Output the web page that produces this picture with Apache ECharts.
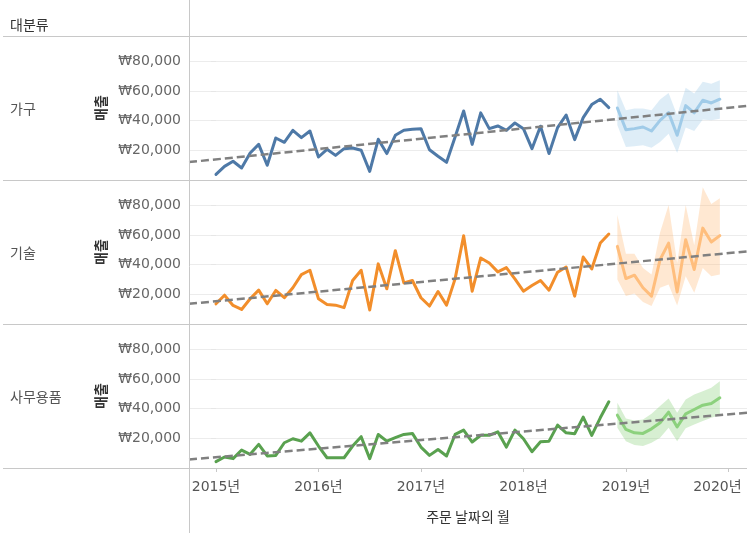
<!DOCTYPE html>
<html><head><meta charset="utf-8">
<script src="https://cdn.jsdelivr.net/npm/echarts@6/dist/echarts.min.js"></script>
<style>html,body{margin:0;padding:0;background:#fff}#c{width:747px;height:533px}</style>
</head><body><div id="c"></div>
<script>
// ---------- data ----------
const categories = ['가구', '기술', '사무용품'];
const yearLabels = ['2015년', '2016년', '2017년', '2018년', '2019년', '2020년'];
const yearTickMonths = [0, 12, 24, 36, 48, 60]; // month index from 2015-01
const actualMonths = [];   // 2015-01 .. 2018-11
const forecastMonths = []; // 2018-12 .. 2019-12
(function () {
  for (let y = 2015; y <= 2019; y++) for (let m = 1; m <= 12; m++) {
    const s = y + '-' + String(m).padStart(2, '0');
    if (s <= '2018-11') actualMonths.push(s); else forecastMonths.push(s);
  }
})();

const furnitureActual = [3800, 9200, 12600, 8100, 18200, 24000, 9900, 28300, 25400, 33500,
  28500, 33000, 15500, 20700, 16600, 21100, 21600, 20000, 5800, 27400,
  17800, 30100, 33500, 34200, 34600, 20400, 16000, 11900, 29000, 46500,
  24000, 45200, 34600, 36400, 33500, 38400, 34600, 21100, 36200, 17800,
  35300, 43800, 27200, 42000, 50800, 54400, 48800];
const furnitureForecast = [48500, 33900, 34600, 35700, 33000, 40200, 45400, 30100, 50100, 45200, 53700, 51900, 54400];
const furnitureUpper = [60400, 47000, 48100, 48100, 47000, 54200, 58600, 43600, 62200, 58200, 66100, 64900, 67200];
const furnitureLower = [36900, 22200, 22700, 23400, 21800, 25600, 31200, 18200, 35300, 33000, 40700, 40200, 41300];

const techActual = [13600, 19400, 12500, 9800, 17000, 22800, 13600, 22600, 17700, 24400,
  33300, 36200, 17000, 13200, 12700, 11000, 29300, 36200, 9400, 40500,
  23700, 49400, 27700, 29300, 17700, 12100, 21900, 12700, 30400, 59500,
  22100, 44500, 41100, 35100, 38000, 30400, 22100, 25900, 29300, 22800,
  34900, 38400, 18800, 45100, 37100, 54500, 60600];
const techForecast = [52300, 30600, 32900, 24400, 18800, 43400, 54500, 21500, 56800, 36700, 64600, 55200, 59500];
const techUpper = [73500, 47400, 47400, 37800, 33300, 61700, 80200, 41100, 80200, 53000, 92100, 80900, 84700];
const techLower = [29900, 18800, 20600, 14800, 12100, 24400, 26600, 12500, 32200, 21000, 37800, 32200, 33300];

const officeActual = [4300, 7400, 6300, 12100, 9200, 15900, 8100, 8500, 17000, 19700,
  18100, 23700, 14800, 6900, 6900, 6900, 14800, 21100, 6300, 22600,
  18100, 20400, 22600, 23300, 14100, 8500, 12500, 8100, 22600, 25500,
  17500, 22000, 22000, 24400, 14100, 25500, 19700, 11000, 17700, 18100,
  28900, 23700, 23100, 34300, 22000, 33800, 44600];
const officeForecast = [35600, 26000, 23700, 23300, 26400, 30500, 37600, 27600, 36500, 39400, 42300, 43500, 47300];
const officeUpper = [43900, 33400, 32000, 32700, 36500, 41700, 46800, 37200, 46100, 49500, 51700, 54000, 58500];
const officeLower = [27100, 18100, 15500, 14800, 17000, 20400, 27100, 18100, 26700, 29300, 31600, 33800, 35600];

// linear trend per category: value = intercept + slope * monthIndex
const trendIntercept = [13900, 15300, 7300];
const trendSlope = [579, 541, 481];

// ---------- build ----------
const monthIndex = s => (parseInt(s.slice(0, 4)) - 2015) * 12 + parseInt(s.slice(5, 7)) - 1;
const actualIdx = actualMonths.map(monthIndex);
const forecastIdx = forecastMonths.map(monthIndex);

const actuals = [furnitureActual, techActual, officeActual];
const forecasts = [furnitureForecast, techForecast, officeForecast];
const uppers = [furnitureUpper, techUpper, officeUpper];
const lowers = [furnitureLower, techLower, officeLower];
const colors = ['#4e79a7', '#f28e2b', '#59a14f'];
const fcColors = ['#a0cbe8', '#ffbe7d', '#8cd17d'];
const bandColors = ['rgba(160,203,232,0.35)', 'rgba(255,190,125,0.35)', 'rgba(140,209,125,0.35)'];

const XMIN = -3.16, XMAX = 62.18;
const FONT = '"DejaVu Sans", "Noto Sans CJK KR", sans-serif';
const KFONT = '"Noto Sans CJK KR", sans-serif';
const TOP0 = 36, PH = 144, LEFT = 189;

const grids = [], xAxes = [], yAxes = [], series = [];
for (let i = 0; i < 3; i++) {
  grids.push({ left: LEFT, right: 0, top: TOP0 + PH * i, height: PH });
  const isLast = i === 2;
  xAxes.push({
    gridIndex: i, type: 'value', min: XMIN, max: XMAX,
    axisLine: { show: false },
    splitLine: { show: false },
    axisTick: isLast ? { show: true, customValues: yearTickMonths, length: 4, lineStyle: { color: '#c8c8c8' } } : { show: false },
    axisLabel: isLast ? {
      show: true, customValues: yearTickMonths, margin: 12,
      fontFamily: FONT, fontSize: 14, color: '#555',
      formatter: v => {
        const k = yearTickMonths.indexOf(Math.round(v));
        if (k < 0) return '';
        return k === yearLabels.length - 1 ? '{last|' + yearLabels[k] + '}' : yearLabels[k];
      },
      rich: { last: { fontFamily: FONT, fontSize: 14, color: '#555', padding: [0, 22, 0, 0] } }
    } : { show: false },
    name: isLast ? '주문 날짜의 월' : '', nameLocation: 'middle', nameGap: 42,
    nameTextStyle: { fontFamily: KFONT, fontSize: 14, color: '#333' }
  });
  yAxes.push({
    gridIndex: i, type: 'value', min: 0, max: 97000, interval: 20000,
    axisLine: { show: false },
    axisTick: { show: true, customValues: [20000, 40000, 60000, 80000], length: 5, lineStyle: { color: '#e6e6e6' } },
    splitLine: { show: true, lineStyle: { color: '#ececec', width: 1 } },
    axisLabel: {
      margin: 8, fontFamily: FONT, fontSize: 14, color: '#666',
      formatter: v => (v > 0 && v <= 80000) ? '₩' + v.toLocaleString('en-US') : ''
    },
    name: '매출', nameLocation: 'middle', nameRotate: 90, nameGap: 81,
    nameTextStyle: { fontFamily: KFONT, fontSize: 14, fontWeight: 'bold', color: '#333' }
  });

  const base = { xAxisIndex: i, yAxisIndex: i, silent: true, animation: false };
  series.push(Object.assign({}, base, {
    type: 'custom', name: 'band' + i,
    data: forecastIdx.map((m, k) => [m, lowers[i][k], uppers[i][k]]),
    encode: { x: 0, y: [1, 2] },
    renderItem: (params, api) => {
      if (params.dataIndex !== 0) return;
      const pts = [];
      for (let k = 0; k < forecastIdx.length; k++) pts.push(api.coord([forecastIdx[k], uppers[i][k]]));
      for (let k = forecastIdx.length - 1; k >= 0; k--) pts.push(api.coord([forecastIdx[k], lowers[i][k]]));
      return { type: 'polygon', shape: { points: pts }, style: { fill: bandColors[i], stroke: null } };
    },
    z: 1
  }));
  series.push(Object.assign({}, base, {
    type: 'line', symbol: 'none', name: 'actual' + i,
    data: actualIdx.map((m, k) => [m, actuals[i][k]]),
    lineStyle: { color: colors[i], width: 3, join: 'round', cap: 'round' }, z: 3
  }));
  series.push(Object.assign({}, base, {
    type: 'line', symbol: 'none', name: 'forecast' + i,
    data: forecastIdx.map((m, k) => [m, forecasts[i][k]]),
    lineStyle: { color: fcColors[i], width: 3, join: 'round', cap: 'round' }, z: 3
  }));
  series.push(Object.assign({}, base, {
    type: 'line', symbol: 'none', name: 'trend' + i,
    data: [XMIN, XMAX].map(m => [m, trendIntercept[i] + trendSlope[i] * m]),
    lineStyle: { color: '#808080', width: 2.5, type: [8, 4] }, z: 4
  }));
}

const lineStyle = { stroke: '#c8c8c8', lineWidth: 1 };
const graphic = [
  { type: 'line', shape: { x1: LEFT + 0.5, y1: 0, x2: LEFT + 0.5, y2: 533 }, style: lineStyle, z: 10 },
  { type: 'text', left: 10, top: 18, style: { text: '대분류', fontFamily: KFONT, fontSize: 14, fill: '#333' } }
];
for (let i = 0; i < 4; i++) {
  const y = TOP0 + PH * i + 0.5;
  graphic.push({ type: 'line', shape: { x1: 3, y1: y, x2: 747, y2: y }, style: lineStyle, z: 10 });
}
categories.forEach((c, i) => {
  graphic.push({ type: 'text', left: 10, top: TOP0 + PH * i + PH / 2 - 6,
    style: { text: c, fontFamily: KFONT, fontSize: 14, fill: '#555' } });
});

const chart = echarts.init(document.getElementById('c'), null, { renderer: 'canvas' });
chart.setOption({
  animation: false,
  backgroundColor: '#fff',
  grid: grids, xAxis: xAxes, yAxis: yAxes, series: series, graphic: graphic
});
</script></body></html>
